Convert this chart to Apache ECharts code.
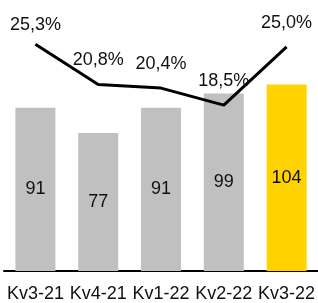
<!DOCTYPE html>
<html>
<head>
<meta charset="utf-8">
<script src="https://cdn.jsdelivr.net/npm/echarts@6/dist/echarts.min.js"></script>
<style>
  html, body { margin: 0; padding: 0; background: #fff; }
  #chart { width: 318px; height: 303px; }
</style>
</head>
<body>
<div id="chart"></div>
<script>
const categories = ["Kv3-21", "Kv4-21", "Kv1-22", "Kv2-22", "Kv3-22"];
const barValues = [91, 77, 91, 99, 104];
const pctValues = [25.3, 20.8, 20.4, 18.5, 25.0];
const barColors = ["#c0c0c0", "#c0c0c0", "#c0c0c0", "#c0c0c0", "#ffd200"];

const chart = echarts.init(document.getElementById("chart"));

const font = "Liberation Sans, Arial, sans-serif";

const options = {
  animation: false,
  grid: { left: 4, top: 2, width: 318, height: 270 },
  xAxis: {
    type: "category",
    data: categories,
    axisLine: { lineStyle: { color: "#000", width: 2 } },
    axisTick: { show: false },
    axisLabel: { color: "#111", fontSize: 18, fontFamily: font, margin: 14, interval: 0 }
  },
  yAxis: [
    { type: "value", min: 0, max: 150, show: false },
    { type: "value", min: 0, max: 30, show: false }
  ],
  series: [
    {
      type: "bar",
      data: barValues.map((v, i) => ({ value: v, itemStyle: { color: barColors[i] } })),
      barWidth: 40,
      label: {
        show: true,
        position: "inside",
        color: "#111",
        fontSize: 18,
        fontFamily: font
      }
    },
    {
      type: "line",
      yAxisIndex: 1,
      // first label sits a little closer to its point in the original
      data: pctValues.map((v, i) => (i === 0 ? { value: v, label: { distance: 10 } } : v)),
      symbol: "circle",
      symbolSize: 0,
      showSymbol: true,
      z: 3,
      lineStyle: { color: "#000", width: 3 },
      itemStyle: { color: "#000" },
      label: {
        show: true,
        position: "top",
        distance: 15,
        color: "#111",
        fontSize: 18,
        fontFamily: font,
        formatter: p => p.value.toFixed(1).replace(".", ",") + "%"
      }
    }
  ]
};

chart.setOption(options);
</script>
</body>
</html>
